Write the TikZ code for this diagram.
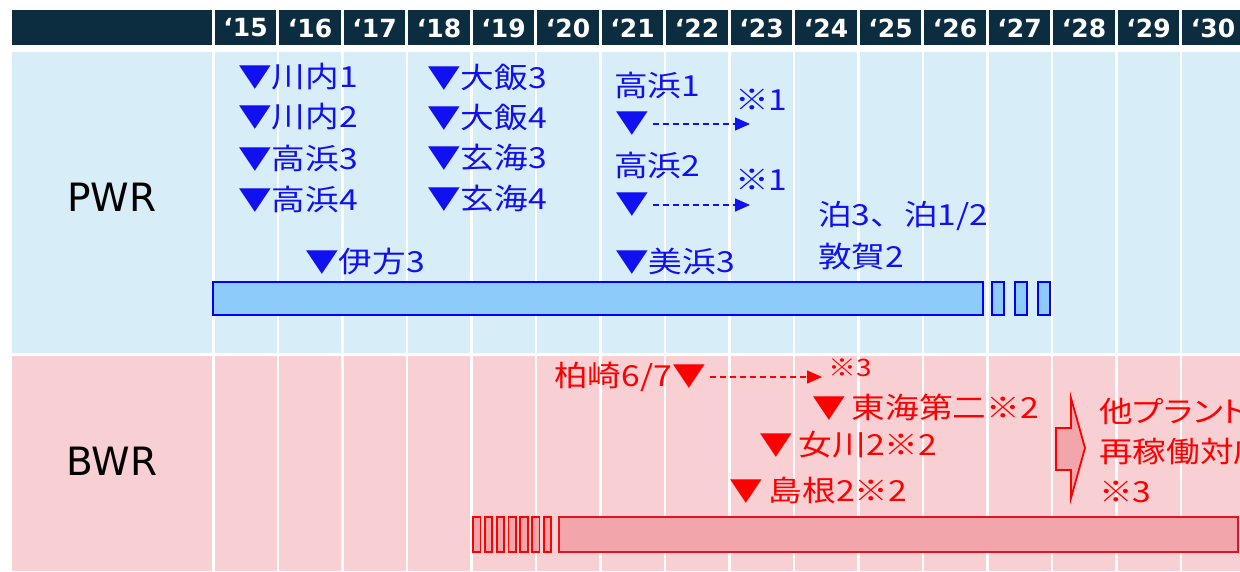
\documentclass[tikz,border=0pt]{standalone}
\usepackage{fontspec}
\usetikzlibrary{arrows.meta}
\newfontfamily\jp[FakeStretch=1.16]{Noto Sans CJK JP}
\newfontfamily\jpp[FakeStretch=1.16,RawFeature=+palt]{Noto Sans CJK JP}
\newfontfamily\lat{DejaVu Sans}
\definecolor{hdrc}{HTML}{0C2C3F}
\definecolor{pwrbg}{HTML}{D7EEF8}
\definecolor{bwrbg}{HTML}{F8D0D3}
\definecolor{pblue}{HTML}{1010F0}
\definecolor{bfill}{HTML}{8DCBFA}
\definecolor{rtext}{HTML}{FF0000}
\definecolor{rfill}{HTML}{F2A5AA}
\definecolor{rline}{HTML}{E3141E}
\tikzset{
  hdrcell/.style={fill=hdrc, draw=none},
  yeartxt/.style={text=white, font=\lat\bfseries\fontsize{25}{25}\selectfont, inner sep=0},
  sep/.style={draw=white, line width=2.5pt},
  bluet/.style={text=pblue, font=\jp\fontsize{29}{31}\selectfont, anchor=west, inner sep=0},
  redt/.style={text=rtext, font=\jp\fontsize{29}{31}\selectfont, anchor=west, inner sep=0},
  bluebar/.style={fill=bfill, draw=blue, line width=2.4pt},
  redbar/.style={fill=rfill, draw=rline, line width=2pt},
  bdash/.style={draw=pblue, dashed, dash pattern=on 6pt off 4pt, line width=1.4pt, -{Triangle[length=15pt,width=13pt]}},
  rdash/.style={draw=rtext, dashed, dash pattern=on 6pt off 4pt, line width=1.4pt, -{Triangle[length=15pt,width=13pt]}},
  rowlabel/.style={font=\lat\fontsize{39}{39}\selectfont, text=black, inner sep=0}
}
\begin{document}
\begin{tikzpicture}[x=1pt,y=-1pt]
\useasboundingbox (0,0) rectangle (1240,571);
\clip (0,0) rectangle (1240,571);
\fill[white] (0,0) rectangle (1240,571);
% bands
\fill[pwrbg] (12,52) rectangle (1240,353);
\fill[bwrbg] (12,356) rectangle (1240,571);
% column separators in bands
\foreach \i in {0,...,15} {
  \pgfmathsetmacro{\xx}{213.3+\i*64.5}
  \draw[sep] (\xx,52) -- (\xx,571);
}
% header
\fill[hdrc] (12,10) rectangle (211.8,44.5);
\foreach \i in {0,...,15} {
  \pgfmathsetmacro{\xa}{213.3+\i*64.5+1.6}
  \pgfmathsetmacro{\xb}{213.3+(\i+1)*64.5-1.6}
  \pgfmathsetmacro{\xc}{213.3+\i*64.5+32.25}
  \pgfmathtruncatemacro{\yr}{15+\i}
  \fill[hdrc] (\xa,10) rectangle (\xb,44.5);
  \node[yeartxt] (yr\yr) at (\xc,28) {‘\yr};
}
% row labels
\node[rowlabel] (pwr) at (112,197) {PWR};
\node[rowlabel] (bwr) at (112,461) {BWR};
% PWR bars
\draw[bluebar] (213,282) rectangle (983,315);
\draw[bluebar] (992,282) rectangle (1004,315);
\draw[bluebar] (1015,282) rectangle (1027,315);
\draw[bluebar] (1038,282) rectangle (1050,315);
% PWR texts
\node[bluet] (sendai1) at (238,77) {▼川内1};
\node[bluet] (sendai2) at (238,117) {▼川内2};
\node[bluet] (takahama3) at (238,158) {▼高浜3};
\node[bluet] (takahama4) at (238,199) {▼高浜4};
\node[bluet] (ohi3) at (427,77) {▼大飯3};
\node[bluet] (ohi4) at (427,117) {▼大飯4};
\node[bluet] (genkai3) at (427,158) {▼玄海3};
\node[bluet] (genkai4) at (427,199) {▼玄海4};
\node[bluet] (takahama1) at (614,85) {高浜1};
\node[bluet] (t1tri) at (615,124) {▼};
\coordinate (t1end) at (750,124);
\draw[bdash] (t1tri.east) ++(4,0) -- (t1end);
\node[bluet] (note1a) at (735,100) {※1};
\node[bluet] (takahama2) at (614,165) {高浜2};
\node[bluet] (t2tri) at (615,205) {▼};
\coordinate (t2end) at (750,205);
\draw[bdash] (t2tri.east) ++(4,0) -- (t2end);
\node[bluet] (note1b) at (735,180) {※1};
\node[bluet] (tomari) at (818,216) {泊3、泊1/2};
\node[bluet] (tsuruga) at (818,256) {敦賀2};
\node[bluet] (mihama3) at (615,261) {▼美浜3};
\node[bluet] (ikata3) at (305,261) {▼伊方3};
% BWR bars
\foreach \k in {0,...,6} {
  \pgfmathsetmacro{\bx}{473+\k*11.8}
  \draw[draw=rtext, fill=rfill, line width=1.8pt] (\bx,517) rectangle ++(7.5,35);
}
\draw[redbar] (559,517) rectangle (1238,552);
% BWR texts
\node[redt] (kk) at (554,377) {柏崎6/7▼};
\coordinate (kkend) at (822,377);
\draw[rdash] (kk.east) ++(4,0) -- (kkend);
\node[redt, font=\jp\fontsize{24}{26}\selectfont] (note3) at (828,368) {※3};
\node[redt] (tokai) at (812,407) {▼\hspace{6pt}東海第二※2};
\node[redt] (onagawa) at (759,445) {▼\hspace{6pt}女川2※2};
\node[redt] (shimane) at (729,490) {▼\hspace{6pt}島根2※2};
% block arrow
\draw[fill=rfill, draw=rtext, line width=1.8pt, line join=miter]
  (1056,428) -- (1071,428) -- (1071,398) -- (1085,448) -- (1071,498) -- (1071,470) -- (1056,470) -- cycle;
\node[redt, font=\jpp\fontsize{29}{31}\selectfont] (other1) at (1099,411) {他プラントも};
\node[redt] (other2) at (1099,452) {再稼働対応};
\node[redt] (other3) at (1099,492) {※3};
\end{tikzpicture}
\end{document}
